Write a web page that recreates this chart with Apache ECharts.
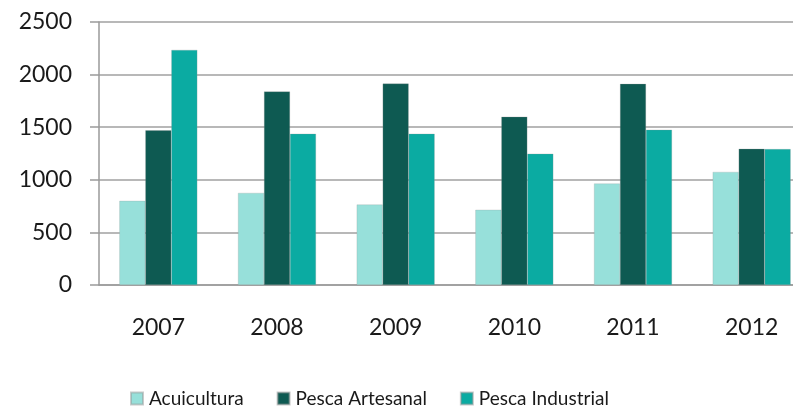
<!DOCTYPE html>
<html>
<head>
    <meta charset="utf-8">
    <script src="https://cdn.jsdelivr.net/npm/echarts@6/dist/echarts.min.js"></script>
    <style>
        * { padding: 0; margin: 0 }
        body, html { height: 100%; width: 100%; background: #fff; overflow: hidden }
        #container { height: 409px; width: 793px }
    </style>
</head>
<body>
    <div id="container"></div>
</body>
<script>
    const years = ['2007', '2008', '2009', '2010', '2011', '2012'];
    const acuicultura = [800, 875, 765, 715, 965, 1075];
    const pescaArtesanal = [1470, 1840, 1915, 1600, 1912, 1295];
    const pescaIndustrial = [2235, 1438, 1438, 1248, 1476, 1292];

    const font = 'Lato, "Open Sans", sans-serif';
    const chart = echarts.init(document.getElementById('container'));

    const bar = (name, data, color) => ({
        name: name,
        type: 'bar',
        data: data,
        barWidth: 26,
        barGap: '0%',
        itemStyle: { color: color, borderColor: 'rgba(150,150,150,0.5)', borderWidth: 0.5 }
    });

    // the plot runs past the right edge of the picture, like the reference crop
    chart.setOption({
        animation: false,
        textStyle: { fontFamily: font },
        grid: { left: 99, width: 712, top: 22, height: 263, outerBoundsMode: 'none' },
        legend: {
            top: 389,
            left: 130,
            padding: 0,
            itemWidth: 12,
            itemHeight: 12,
            itemGap: 33,
            icon: 'rect',
            textStyle: { fontSize: 19, color: '#1a1a1a', fontFamily: font, padding: [0, 0, 0, 1] }
        },
        xAxis: {
            type: 'category',
            data: years,
            axisLine: { lineStyle: { color: '#9a9a9a', width: 1.5 } },
            axisTick: { length: 8, lineStyle: { color: '#9a9a9a', width: 1.5 } },
            axisLabel: { fontSize: 23, color: '#1a1a1a', margin: 31 }
        },
        yAxis: {
            type: 'value',
            min: 0,
            max: 2500,
            interval: 500,
            axisLine: { show: true, lineStyle: { color: '#9a9a9a', width: 1.5 } },
            axisTick: { show: true, length: 9, lineStyle: { color: '#9a9a9a', width: 1.5 } },
            axisLabel: { fontSize: 23, color: '#1a1a1a', margin: 27, formatter: v => String(v) },
            splitLine: { lineStyle: { color: '#a0a0a0', width: 1.5 } }
        },
        series: [
            bar('Acuicultura', acuicultura, '#97e0da'),
            bar('Pesca Artesanal', pescaArtesanal, '#0e5a52'),
            bar('Pesca Industrial', pescaIndustrial, '#0baba2')
        ]
    });
</script>
</html>
